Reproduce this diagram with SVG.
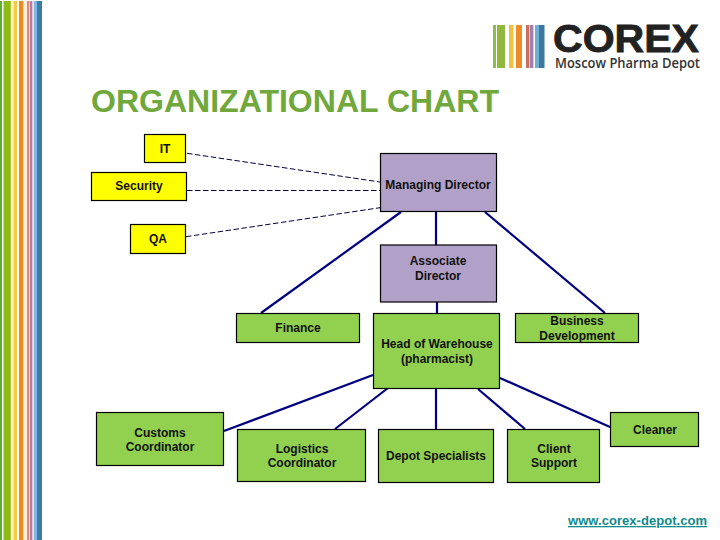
<svg xmlns="http://www.w3.org/2000/svg" width="720" height="540" viewBox="0 0 720 540">
<style>
text{font-family:"Liberation Sans",Arial,sans-serif}
.l{font-size:12px;font-weight:bold;fill:#111;text-anchor:middle}
.n{stroke:#000;stroke-width:1.2}
.g{fill:#92d050}.y{fill:#ffff00}.p{fill:#b1a0c7}
.d{fill:none;stroke:#000040;stroke-width:1;stroke-dasharray:5.5 2.5}
.s{fill:none;stroke:#000080;stroke-width:2.2}
</style>
<rect width="720" height="540" fill="#fff"/>
<g id="side-stripes">
<rect x="0" y="1" width="2" height="539" fill="#5cb030"/>
<rect x="3.5" y="1" width="7.3" height="539" fill="#8fbc14"/>
<rect x="12" y="1" width="1.8" height="539" fill="#fbf0a0"/>
<rect x="13.8" y="1" width="3.2" height="539" fill="#f5c84c"/>
<rect x="19" y="1" width="4.5" height="539" fill="#f08a1c"/>
<rect x="23.5" y="1" width="3.5" height="539" fill="#fdf0e0"/>
<rect x="27" y="1" width="2.4" height="539" fill="#dd8a78"/>
<rect x="30" y="1" width="2.4" height="539" fill="#b87aa0"/>
<rect x="33.7" y="1" width="3.3" height="539" fill="#7db8e4"/>
<rect x="37" y="1" width="5" height="539" fill="#3c7ca4"/>
</g>
<g id="logo">
<rect x="493" y="25" width="3" height="43" fill="#8fbc4c"/>
<rect x="497" y="25" width="8" height="43" fill="#8fb83c"/>
<rect x="509" y="25" width="4.5" height="43" fill="#f0c040"/>
<rect x="516" y="25" width="6" height="43" fill="#f08c28"/>
<rect x="526" y="25" width="3.4" height="43" fill="#c8705c"/>
<rect x="530" y="25" width="3.4" height="43" fill="#a080b0"/>
<rect x="535" y="25" width="4" height="43" fill="#70aed8"/>
<rect x="539" y="25" width="5.5" height="43" fill="#3a7a9c"/>
<text x="553" y="52" font-size="38" font-weight="bold" fill="#222" stroke="#222" stroke-width="0.8" textLength="146" lengthAdjust="spacingAndGlyphs">COREX</text>
<text x="555" y="68" font-size="14" font-weight="600" fill="#333" textLength="145" lengthAdjust="spacingAndGlyphs" style="font-family:'Open Sans','Liberation Sans',sans-serif">Moscow Pharma Depot</text>
</g>
<text id="title" x="91" y="112" font-size="31.5" font-weight="bold" fill="#70a83c" textLength="408" lengthAdjust="spacingAndGlyphs">ORGANIZATIONAL CHART</text>
<g id="connectors">
<path class="d" d="M187 153.3 L380 182"/>
<path class="d" d="M187 190.5 H380"/>
<path class="d" d="M186 236.7 L380 207.7"/>
<path class="s" d="M401 212 L261 313"/>
<path class="s" d="M485 212 L605 313"/>
<path class="s" d="M436 212 V245"/>
<path class="s" d="M437 302 V313"/>
<path class="s" d="M224 431 L373 375"/>
<path class="s" d="M335 429 L388 388"/>
<path class="s" d="M436 389 V429"/>
<path class="s" d="M525 429 L478 389"/>
<path class="s" d="M610 427 L500 378"/>
</g>
<g id="it"><rect class="n y" x="144.5" y="134.5" width="41" height="28"/><text class="l" x="165" y="153">IT</text></g>
<g id="security"><rect class="n y" x="91.5" y="172.5" width="95" height="28"/><text class="l" x="139" y="190">Security</text></g>
<g id="qa"><rect class="n y" x="130.5" y="224.5" width="55" height="29"/><text class="l" x="158" y="243">QA</text></g>
<g id="managing-director"><rect class="n p" x="380.5" y="153.5" width="116" height="58"/><text class="l" x="438" y="189">Managing Director</text></g>
<g id="associate-director"><rect class="n p" x="380.5" y="245" width="116" height="57"/><text class="l" x="438" y="265">Associate</text><text class="l" x="438" y="280">Director</text></g>
<g id="finance"><rect class="n g" x="236.5" y="313.5" width="123" height="29"/><text class="l" x="298" y="332">Finance</text></g>
<g id="head-of-warehouse"><rect class="n g" x="373.5" y="313.5" width="126" height="75"/><text class="l" x="437" y="348">Head of Warehouse</text><text class="l" x="437" y="363">(pharmacist)</text></g>
<g id="business-development"><rect class="n g" x="515.5" y="313.5" width="123" height="29"/><text class="l" x="577" y="325">Business</text><text class="l" x="577" y="340">Development</text></g>
<g id="customs-coordinator"><rect class="n g" x="96.5" y="412.5" width="127" height="53"/><text class="l" x="160" y="437">Customs</text><text class="l" x="160" y="451">Coordinator</text></g>
<g id="logistics-coordinator"><rect class="n g" x="237.5" y="429.5" width="128" height="52"/><text class="l" x="302" y="453">Logistics</text><text class="l" x="302" y="467">Coordinator</text></g>
<g id="depot-specialists"><rect class="n g" x="378.5" y="429.5" width="115" height="53"/><text class="l" x="436" y="460">Depot Specialists</text></g>
<g id="client-support"><rect class="n g" x="507.5" y="429.5" width="92" height="53"/><text class="l" x="554" y="453">Client</text><text class="l" x="554" y="467">Support</text></g>
<g id="cleaner"><rect class="n g" x="610.5" y="412.5" width="88" height="34"/><text class="l" x="655" y="434">Cleaner</text></g>
<text id="url" x="568" y="525" font-size="13" font-weight="bold" fill="#0f8a8a" text-decoration="underline" textLength="139" lengthAdjust="spacing">www.corex-depot.com</text>
</svg>
